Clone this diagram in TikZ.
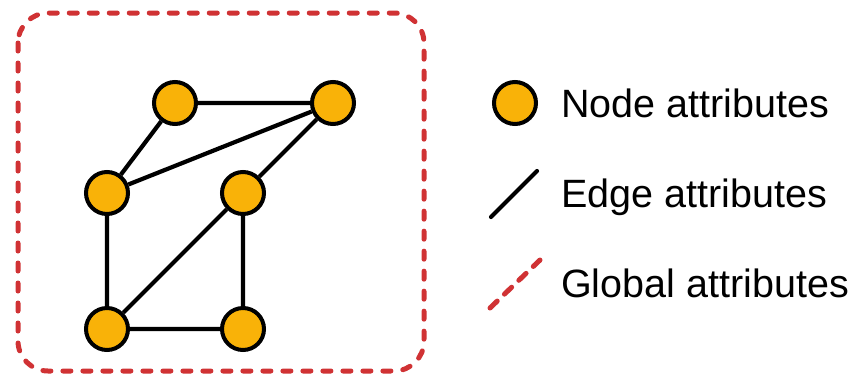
\documentclass[tikz,border=0pt]{standalone}
\usepackage{fontspec}
\setmainfont{Liberation Sans}
\usepackage{tikz}

\definecolor{nodeorange}{HTML}{F9B208}
\definecolor{globalred}{HTML}{D03234}

\tikzset{
  vertex/.style={shape=circle,draw=black,fill=nodeorange,line width=4pt,
    minimum size=42pt,inner sep=0pt},
  edge/.style={line width=4.2pt,black},
  globalbox/.style={globalred,line width=5pt,line cap=round,
    dash pattern=on 8pt off 12pt},
  legendtext/.style={anchor=base west,inner sep=0pt,
    font=\fontsize{39.5}{44}\selectfont}
}

\begin{document}
\begin{tikzpicture}[x=1pt,y=-1pt]
      \useasboundingbox (0,0) rectangle (857,376) ;
      % the whole graph sits in a dashed rounded frame
      \draw[globalbox,rounded corners=30pt] (18,13) rectangle (424,371) ;
      % vertices
      \node[vertex] (A) at (175,103) {} ;
      \node[vertex] (B) at (333,103) {} ;
      \node[vertex] (C) at (107,193) {} ;
      \node[vertex] (D) at (243,193) {} ;
      \node[vertex] (E) at (107,329) {} ;
      \node[vertex] (F) at (243,329) {} ;
      % edges
      \draw[edge] (A)--(B) (A)--(C) (C)--(B) (D)--(B) ;
      \draw[edge] (C)--(E) (D)--(E) (D)--(F) (E)--(F) ;
      % legend
      \node[vertex] (LN) at (515,103) {} ;
      \coordinate (LE1) at (491,217) ;
      \coordinate (LE2) at (537,171) ;
      \draw[edge,line cap=round] (LE1)--(LE2) ;
      \coordinate (LG1) at (490,308) ;
      \coordinate (LG2) at (540,260) ;
      \draw[globalbox,dash pattern=on 10pt off 10pt] (LG1)--(LG2) ;
      \node[legendtext] (TN) at (561,117) {Node attributes} ;
      \node[legendtext] (TE) at (561,207) {Edge attributes} ;
      \node[legendtext] (TG) at (561,297) {Global attributes} ;
    \end{tikzpicture}
\end{document}
